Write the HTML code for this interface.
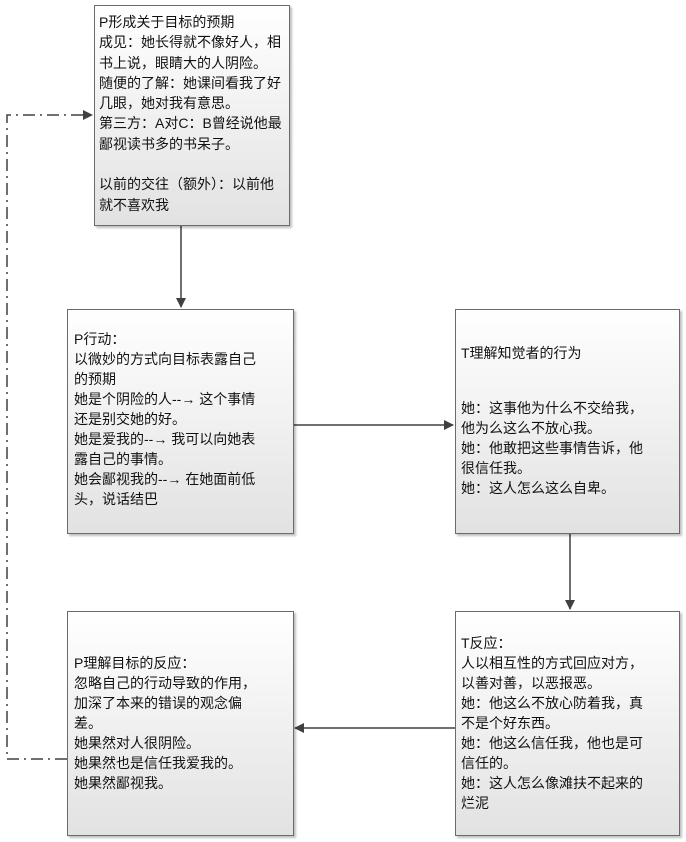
<!DOCTYPE html>
<html><head><meta charset="utf-8"><style>
body{margin:0;width:686px;height:842px;background:#fff;position:relative;overflow:hidden;font-family:"Liberation Sans","Noto Sans CJK SC",sans-serif;}
.b{position:absolute;border:1px solid #6b6b6b;background:linear-gradient(#ffffff,#e2e2e2);box-shadow:2px 2px 2px rgba(0,0,0,0.25);box-sizing:border-box;}
.t{position:absolute;font-size:14px;line-height:20px;color:#111;white-space:nowrap;}
svg{position:absolute;left:0;top:0;}
</style></head><body>
<svg width="686" height="842">
<defs><marker id="a" markerWidth="10" markerHeight="10" refX="9" refY="5" orient="auto" markerUnits="userSpaceOnUse"><path d="M0,0 L10,5 L0,10 z" fill="#404040"/></marker></defs>
<g stroke="#404040" stroke-width="1.5" fill="none">
<line x1="181" y1="225" x2="181" y2="307" marker-end="url(#a)"/>
<line x1="293" y1="425" x2="453" y2="425" marker-end="url(#a)"/>
<line x1="570" y1="533" x2="570" y2="609" marker-end="url(#a)"/>
<line x1="455" y1="728" x2="295" y2="728" marker-end="url(#a)"/>
<polyline points="67,759 7,759 7,115 92,115" stroke-dasharray="12,5,2,5" marker-end="url(#a)"/>
</g></svg>
<div class="b" style="left:94px;top:5px;width:196px;height:221px"></div>
<div class="t" style="left:99px;top:12px;line-height:20.3px">P形成关于目标的预期<br>成见：她长得就不像好人，相<br>书上说，眼睛大的人阴险。<br>随便的了解：她课间看我了好<br>几眼，她对我有意思。<br>第三方：A对C：B曾经说他最<br>鄙视读书多的书呆子。<br><br>以前的交往（额外）：以前他<br>就不喜欢我</div>
<div class="b" style="left:67px;top:309px;width:227px;height:225px"></div>
<div class="t" style="left:74px;top:329px">P行动：<br>以微妙的方式向目标表露自己<br>的预期<br>她是个阴险的人--→ 这个事情<br>还是别交她的好。<br>她是爱我的--→ 我可以向她表<br>露自己的事情。<br>她会鄙视我的--→ 在她面前低<br>头，说话结巴</div>
<div class="b" style="left:455px;top:309px;width:225px;height:225px"></div>
<div class="t" style="left:461px;top:343px">T理解知觉者的行为</div>
<div class="t" style="left:461px;top:398px">她：这事他为什么不交给我，<br>他为么这么不放心我。<br>她：他敢把这些事情告诉，他<br>很信任我。<br>她：这人怎么这么自卑。</div>
<div class="b" style="left:455px;top:611px;width:225px;height:225px"></div>
<div class="t" style="left:461px;top:633px">T反应：<br>人以相互性的方式回应对方，<br>以善对善，以恶报恶。<br>她：他这么不放心防着我，真<br>不是个好东西。<br>她：他这么信任我，他也是可<br>信任的。<br>她：这人怎么像滩扶不起来的<br>烂泥</div>
<div class="b" style="left:67px;top:611px;width:227px;height:225px"></div>
<div class="t" style="left:74px;top:653px">P理解目标的反应：<br>忽略自己的行动导致的作用，<br>加深了本来的错误的观念偏<br>差。<br>她果然对人很阴险。<br>她果然也是信任我爱我的。<br>她果然鄙视我。</div>
</body></html>
